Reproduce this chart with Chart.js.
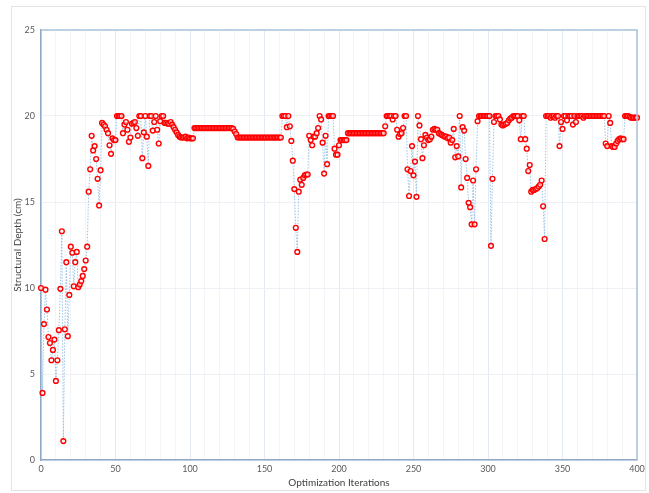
<!DOCTYPE html>
<html>
<head>
<meta charset="utf-8">
<script src="https://cdn.jsdelivr.net/npm/chart.js@4.4.1/dist/chart.umd.min.js"></script>
<style>
  html, body { margin: 0; padding: 0; background: #fff; }
  #wrap { width: 649px; height: 493px; }
</style>
</head>
<body>
<div id="wrap"><canvas id="grafico" width="649" height="493"></canvas></div>
<script>
// Profundidad estructural (cm) por iteración
const inicio = [ // 0-50
  10.0, 3.9, 7.9, 9.9, 8.75, 7.15, 6.8, 5.8, 6.4, 7.0,
  4.6, 5.8, 7.55, 9.95, 13.3, 1.1, 7.6, 11.5, 7.2, 9.6,
  12.4, 12.05, 10.1, 11.5, 12.1, 10.05, 10.2, 10.4, 10.7, 11.1,
  11.6, 12.4, 15.6, 16.9, 18.85, 18.0, 18.25, 17.5, 16.35, 14.8,
  16.85, 19.6, 19.5, 19.4, 19.2, 19.0, 18.3, 17.8, 18.7, 18.6,
  18.6
];
const subida = [ // 51-102
  20, 20, 20, 20, 19.0, 19.5, 19.65, 19.2, 18.5, 18.75,
  19.55, 19.6, 19.65, 19.3, 18.85, 20, 20, 17.55, 19.05, 20,
  18.8, 17.1, 20, 20, 19.15, 19.65, 20, 19.2, 18.4, 19.7,
  20, 20, 19.6, 19.6, 19.55, 19.55, 19.65, 19.5, 19.35, 19.2,
  19.05, 18.9, 18.8, 18.75, 18.75, 18.75, 18.8, 18.7, 18.75, 18.7,
  18.7, 18.7
];
const meseta = [ // 103-161
  19.3, 19.3, 19.3, 19.3, 19.3, 19.3, 19.3, 19.3, 19.3, 19.3,
  19.3, 19.3, 19.3, 19.3, 19.3, 19.3, 19.3, 19.3, 19.3, 19.3,
  19.3, 19.3, 19.3, 19.3, 19.3, 19.3, 19.25, 19.1, 18.95, 18.75,
  18.75, 18.75, 18.75, 18.75, 18.75, 18.75, 18.75, 18.75, 18.75, 18.75,
  18.75, 18.75, 18.75, 18.75, 18.75, 18.75, 18.75, 18.75, 18.75, 18.75,
  18.75, 18.75, 18.75, 18.75, 18.75, 18.75, 18.75, 18.75, 18.75
];
const caida = [ // 162-231
  20, 20, 20, 19.35, 20, 19.4, 18.55, 17.4, 15.75, 13.5,
  12.1, 15.6, 16.3, 16.0, 16.4, 16.55, 16.6, 16.6, 18.85, 18.6,
  18.3, 18.8, 18.8, 19.0, 19.3, 20, 19.8, 18.45, 16.65, 18.85,
  17.2, 20, 20, 20, 20, 18.1, 17.75, 17.75, 18.3, 18.6,
  18.6, 18.6, 18.6, 18.6, 19.0, 19.0, 19.0, 19.0, 19.0, 19.0,
  19.0, 19.0, 19.0, 19.0, 19.0, 19.0, 19.0, 19.0, 19.0, 19.0,
  19.0, 19.0, 19.0, 19.0, 19.0, 19.0, 19.0, 19.0, 19.0, 19.4
];
const oscilacion = [ // 232-301
  20, 20, 20, 20, 19.8, 20, 20, 19.2, 18.8, 18.95,
  19.0, 19.3, 20, 20, 16.9, 15.35, 16.8, 18.25, 16.55, 17.35,
  15.3, 20, 19.45, 18.65, 17.55, 18.3, 18.9, 18.75, 18.6, 18.65,
  18.8, 19.2, 19.25, 19.2, 19.2, 19.0, 18.95, 18.9, 18.85, 18.8,
  18.8, 18.7, 18.75, 18.45, 18.6, 19.25, 17.6, 18.25, 17.65, 20,
  15.85, 19.35, 19.15, 17.5, 16.4, 14.95, 14.7, 13.7, 16.25, 13.7,
  16.9, 19.7, 20, 20, 20, 20, 20, 20, 20, 20
];
const tramoFinal = [ // 302-400
  12.45, 16.35, 19.65, 20, 20, 20, 19.8, 19.5, 19.45, 19.5,
  19.55, 19.6, 19.75, 19.85, 19.9, 20, 20, 20, 20, 19.75,
  18.65, 20, 20, 18.65, 18.1, 16.8, 17.15, 15.6, 15.7, 15.7,
  15.75, 15.8, 15.9, 16.0, 16.25, 14.75, 12.85, 20, 20, 20,
  19.9, 20, 20, 19.9, 20, 20, 18.25, 19.65, 19.25, 20,
  20, 19.75, 20, 20, 20, 19.5, 20, 19.65, 20, 20,
  20, 20, 19.9, 20, 20, 20, 20, 20, 20, 20,
  20, 20, 20, 20, 20, 20, 20, 18.4, 18.25, 20,
  19.6, 18.25, 18.2, 18.2, 18.4, 18.55, 18.65, 18.7, 18.65, 18.65,
  20, 20, 20, 19.95, 19.9, 19.9, 19.9, 19.9, 19.9
];

const ticksX = [0, 50, 100, 150, 200, 250, 300, 350, 400];
const ticksY = [0, 5, 10, 15, 20, 25];
const tituloX = "Optimization Iterations";
const tituloY = "Structural Depth (cm)";

const profundidad = [...inicio, ...subida, ...meseta, ...caida, ...oscilacion, ...tramoFinal];
const puntos = profundidad.map((v, i) => ({ x: i, y: v }));

const fuente = { family: "Lato, 'Open Sans', sans-serif", size: 9 };
const gris = "#595959";

// marco exterior y borde del área de trazado
const marcos = {
  id: "marcos",
  beforeDraw(c) {
    const ctx = c.ctx;
    ctx.save();
    ctx.strokeStyle = "#e4e4e4";
    ctx.lineWidth = 1;
    ctx.strokeRect(11.5, 6.5, 634, 484);
    ctx.restore();
  },
  afterDatasetsDraw(c) {
    const { left, top, right, bottom } = c.chartArea;
    const ctx = c.ctx;
    ctx.save();
    ctx.strokeStyle = "#a9c3dc";
    ctx.lineWidth = 1.5;
    ctx.beginPath();
    ctx.moveTo(left, top);
    ctx.lineTo(right, top);
    ctx.lineTo(right, bottom);
    ctx.stroke();
    ctx.restore();
  }
};

new Chart(document.getElementById("grafico"), {
  type: "line",
  data: {
    datasets: [{
      data: puntos,
      borderColor: "rgba(140,185,225,0.85)",
      borderWidth: 1,
      borderDash: [1.5, 1.5],
      pointRadius: 2.4,
      pointBorderWidth: 1.4,
      pointBorderColor: "#ff0000",
      pointBackgroundColor: "rgba(255,255,255,0.6)",
      tension: 0,
      clip: false
    }]
  },
  options: {
    responsive: false,
    animation: false,
    events: [],
    layout: { padding: { left: 11, top: 30, right: 12, bottom: 4 } },
    plugins: { legend: { display: false }, tooltip: { enabled: false } },
    scales: {
      x: {
        type: "linear",
        min: 0,
        max: 400,
        afterBuildTicks: ax => {
          const t = [];
          for (let v = 0; v <= 400; v += 10) t.push({ value: v });
          ax.ticks = t;
        },
        ticks: {
          color: gris,
          font: fuente,
          padding: 4,
          maxRotation: 0,
          autoSkip: false,
          callback: v => ticksX.includes(v) ? v : ""
        },
        grid: {
          drawTicks: false,
          color: ctx => ticksX.includes(ctx.tick && ctx.tick.value) ? "#e3e9f0" : "#f2f5f8",
          lineWidth: 1
        },
        border: { display: true, color: "#8fa9c6", width: 1.5 },
        title: { display: true, text: tituloX, color: "#404040", font: { ...fuente, size: 10 }, padding: { top: 2, bottom: 0 } },
        afterFit: ax => { ax.height = 29; }
      },
      y: {
        min: 0,
        max: 25,
        afterBuildTicks: ax => { ax.ticks = ticksY.map(v => ({ value: v })); },
        ticks: { color: gris, font: fuente, padding: 6 },
        grid: { drawTicks: false, color: "#edf1f5", lineWidth: 1 },
        border: { display: true, color: "#8fa9c6", width: 1.5 },
        title: { display: true, text: tituloY, color: "#404040", font: { ...fuente, size: 10 }, padding: { top: 1, bottom: 0 } },
        afterFit: ax => { ax.width = 30; }
      }
    }
  },
  plugins: [marcos]
});
</script>
</body>
</html>
